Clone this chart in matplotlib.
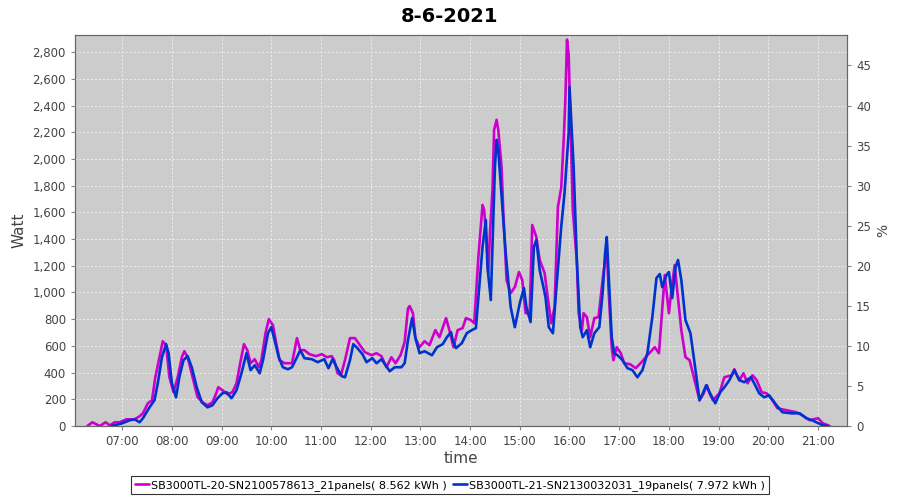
import matplotlib
matplotlib.use("Agg")
import matplotlib.pyplot as plt
from matplotlib.ticker import FuncFormatter

## Données

titre = "8-6-2021"
nom1 = "SB3000TL-20-SN2100578613_21panels( 8.562 kWh )"
nom2 = "SB3000TL-21-SN2130032031_19panels( 7.972 kWh )"

heures1 = ["06:18", "06:24", "06:33", "06:40", "06:45", "06:51", "06:57", "07:05", "07:15", "07:21",
           "07:25", "07:31", "07:36", "07:40", "07:45", "07:49", "07:53", "07:57", "08:02", "08:07",
           "08:12", "08:15", "08:19", "08:25", "08:31", "08:37", "08:43", "08:49", "08:54", "08:56",
           "09:01", "09:07", "09:13", "09:18", "09:22", "09:27", "09:31", "09:35", "09:40", "09:45",
           "09:48", "09:53", "09:57", "10:02", "10:06", "10:10", "10:16", "10:25", "10:31", "10:35",
           "10:40", "10:46", "10:54", "11:01", "11:07", "11:13", "11:16", "11:20", "11:24", "11:29",
           "11:35", "11:41", "11:47", "11:53", "12:01", "12:07", "12:13", "12:19", "12:25", "12:30",
           "12:36", "12:41", "12:45", "12:47", "12:51", "12:54", "12:59", "13:05", "13:11", "13:18",
           "13:23", "13:31", "13:35", "13:40", "13:45", "13:51", "13:55", "14:01", "14:05", "14:10",
           "14:15", "14:17", "14:20", "14:22", "14:24", "14:27", "14:29", "14:32", "14:34", "14:38",
           "14:40", "14:44", "14:49", "14:54", "14:59", "15:03", "15:07", "15:12", "15:15", "15:20",
           "15:24", "15:30", "15:33", "15:38", "15:42", "15:46", "15:50", "15:53", "15:55", "15:57",
           "15:59", "16:04", "16:09", "16:11", "16:15", "16:17", "16:21", "16:25", "16:30", "16:35",
           "16:40", "16:45", "16:47", "16:51", "16:53", "16:57", "17:02", "17:06", "17:13", "17:20",
           "17:27", "17:34", "17:43", "17:48", "17:51", "17:55", "18:00", "18:03", "18:07", "18:10",
           "18:15", "18:20", "18:25", "18:31", "18:37", "18:42", "18:46", "18:49", "18:53", "19:01",
           "19:07", "19:16", "19:19", "19:25", "19:30", "19:35", "19:41", "19:46", "19:52", "19:58",
           "20:05", "20:11", "20:22", "20:34", "20:41", "20:50", "21:00", "21:06", "21:14"]
watt1 = [0, 28, 0, 28, 5, 28, 28, 50, 50, 73,
         95, 170, 193, 365, 515, 635, 605, 365, 253, 365,
         515, 560, 515, 365, 215, 178, 155, 178, 253, 290,
         268, 238, 253, 320, 455, 613, 568, 470, 500, 440,
         493, 695, 800, 755, 620, 493, 470, 470, 658, 568,
         568, 538, 523, 538, 515, 523, 493, 395, 380, 493,
         658, 658, 605, 553, 530, 545, 523, 440, 515, 470,
         530, 628, 880, 898, 845, 658, 590, 635, 605, 718,
         665, 808, 718, 590, 718, 733, 808, 793, 770, 1265,
         1655, 1618, 1370, 1145, 1445, 1768, 2218, 2293, 2218, 1940,
         1618, 1093, 995, 1040, 1153, 1093, 845, 845, 1505, 1415,
         1243, 1145, 995, 770, 890, 1640, 1783, 2143, 2443, 2893,
         2780, 1618, 1220, 845, 718, 845, 815, 665, 808, 815,
         1093, 1340, 1040, 590, 493, 590, 545, 470, 463, 433,
         478, 530, 590, 545, 793, 1130, 845, 1018, 1205, 1018,
         718, 515, 493, 343, 193, 245, 305, 245, 193, 245,
         365, 380, 425, 343, 395, 320, 380, 343, 253, 245,
         193, 133, 118, 103, 80, 43, 58, 20, 0]

heures2 = ["06:47", "07:00", "07:09", "07:15", "07:21", "07:25", "07:33", "07:39", "07:43", "07:48",
           "07:53", "07:56", "08:00", "08:05", "08:09", "08:14", "08:19", "08:24", "08:30", "08:36",
           "08:43", "08:49", "08:55", "09:01", "09:06", "09:12", "09:18", "09:24", "09:30", "09:35",
           "09:40", "09:46", "09:50", "09:56", "10:00", "10:04", "10:09", "10:14", "10:20", "10:25",
           "10:31", "10:35", "10:40", "10:49", "10:56", "11:04", "11:09", "11:14", "11:19", "11:25",
           "11:29", "11:35", "11:39", "11:44", "11:50", "11:55", "12:02", "12:07", "12:13", "12:18",
           "12:23", "12:29", "12:37", "12:41", "12:45", "12:50", "12:54", "12:59", "13:05", "13:14",
           "13:20", "13:27", "13:32", "13:37", "13:39", "13:43", "13:50", "13:56", "14:02", "14:07",
           "14:11", "14:15", "14:19", "14:21", "14:25", "14:27", "14:30", "14:32", "14:34", "14:39",
           "14:43", "14:49", "14:54", "15:00", "15:05", "15:08", "15:13", "15:17", "15:20", "15:24",
           "15:28", "15:31", "15:35", "15:40", "15:44", "15:50", "15:54", "15:59", "16:00", "16:05",
           "16:09", "16:13", "16:16", "16:21", "16:25", "16:30", "16:36", "16:40", "16:43", "16:45",
           "16:48", "16:51", "16:54", "16:58", "17:04", "17:10", "17:16", "17:22", "17:28", "17:34",
           "17:40", "17:45", "17:49", "17:52", "17:57", "18:00", "18:04", "18:08", "18:11", "18:15",
           "18:20", "18:26", "18:31", "18:37", "18:41", "18:45", "18:51", "18:56", "19:02", "19:07",
           "19:13", "19:19", "19:25", "19:31", "19:39", "19:43", "19:49", "19:55", "20:01", "20:10",
           "20:17", "20:28", "20:38", "20:46", "20:53", "20:58", "21:06", "21:12"]
watt2 = [0, 20, 43, 50, 28, 58, 140, 193, 320, 515,
         613, 545, 320, 215, 365, 493, 523, 440, 290, 178,
         140, 155, 208, 245, 253, 208, 268, 395, 545, 418,
         455, 395, 493, 695, 740, 643, 515, 440, 425, 440,
         515, 568, 508, 500, 478, 500, 433, 500, 440, 373,
         365, 493, 613, 583, 538, 478, 508, 470, 500, 455,
         410, 440, 440, 470, 643, 808, 658, 545, 560, 530,
         590, 613, 665, 703, 643, 583, 620, 695, 718, 733,
         1040, 1340, 1543, 1190, 943, 1340, 1940, 2143, 2068, 1640,
         1295, 890, 740, 920, 1033, 890, 778, 1340, 1393, 1168,
         1055, 965, 740, 695, 1018, 1490, 1745, 2195, 2540, 1940,
         1220, 740, 665, 718, 590, 695, 740, 995, 1295, 1415,
         1040, 665, 545, 530, 493, 433, 418, 365, 418, 545,
         815, 1108, 1138, 1040, 1130, 1153, 958, 1190, 1243, 1093,
         793, 695, 470, 193, 245, 305, 230, 170, 253, 290,
         343, 418, 343, 328, 365, 320, 245, 215, 230, 155,
         103, 95, 95, 58, 43, 28, 5, 0]

etiquettes_x = ["07:00", "08:00", "09:00", "10:00", "11:00", "12:00", "13:00",
                "14:00", "15:00", "16:00", "17:00", "18:00", "19:00", "20:00", "21:00"]
ticks_watt = list(range(0, 2801, 200))
ticks_pct = list(range(0, 46, 5))


def en_heures(h):
    hh, mm = h.split(":")
    return int(hh) + int(mm) / 60


x1 = [en_heures(h) for h in heures1]
x2 = [en_heures(h) for h in heures2]
xt = [en_heures(h) for h in etiquettes_x]

## Affichage

fig = plt.figure(figsize=(9, 5), dpi=100)
ax = fig.add_axes([0.0833, 0.148, 0.8578, 0.782])
ax.set_facecolor("#cccccc")

ax.plot(x1, watt1, color="#cc00cc", lw=1.9, label=nom1, zorder=3,
        solid_joinstyle="round", solid_capstyle="round")
ax.plot(x2, watt2, color="#0033cc", lw=1.9, label=nom2, zorder=3,
        solid_joinstyle="round", solid_capstyle="round")

ax.set_xlim(en_heures("06:03"), en_heures("21:35"))
ax.set_ylim(0, 2928)
ax.set_xticks(xt)
ax.set_xticklabels(etiquettes_x)
ax.set_yticks(ticks_watt)
ax.yaxis.set_major_formatter(FuncFormatter(lambda v, p: "{:,.0f}".format(v)))
ax.grid(True, color="#eeeeee", ls=(0, (2, 2)), lw=0.7)
ax.set_axisbelow(True)

for s in ax.spines.values():
    s.set_color("#666666")
ax.tick_params(colors="#888888", labelcolor="#444444", labelsize=8.5, length=3)

ax2 = ax.twinx()
ax2.set_ylim(0, 2928 / 60)
ax2.set_yticks(ticks_pct)
ax2.tick_params(colors="#888888", labelcolor="#444444", labelsize=8.5, length=3)
for s in ax2.spines.values():
    s.set_color("#666666")
ax2.set_ylabel("%", fontsize=10, color="#444444")

ax.set_ylabel("Watt", fontsize=11, color="#444444")
ax.set_xlabel("time", fontsize=11, color="#444444", labelpad=2)
fig.suptitle(titre, fontsize=14, fontweight="bold", y=0.985)

leg = fig.legend(loc="lower center", bbox_to_anchor=(0.5, 0.0), ncol=2, fontsize=8,
                 frameon=True, fancybox=False, edgecolor="black", handlelength=1.3,
                 handletextpad=0.2, columnspacing=0.5, borderpad=0.35)
leg.get_frame().set_linewidth(0.8)

plt.savefig("out.png", dpi=100)
